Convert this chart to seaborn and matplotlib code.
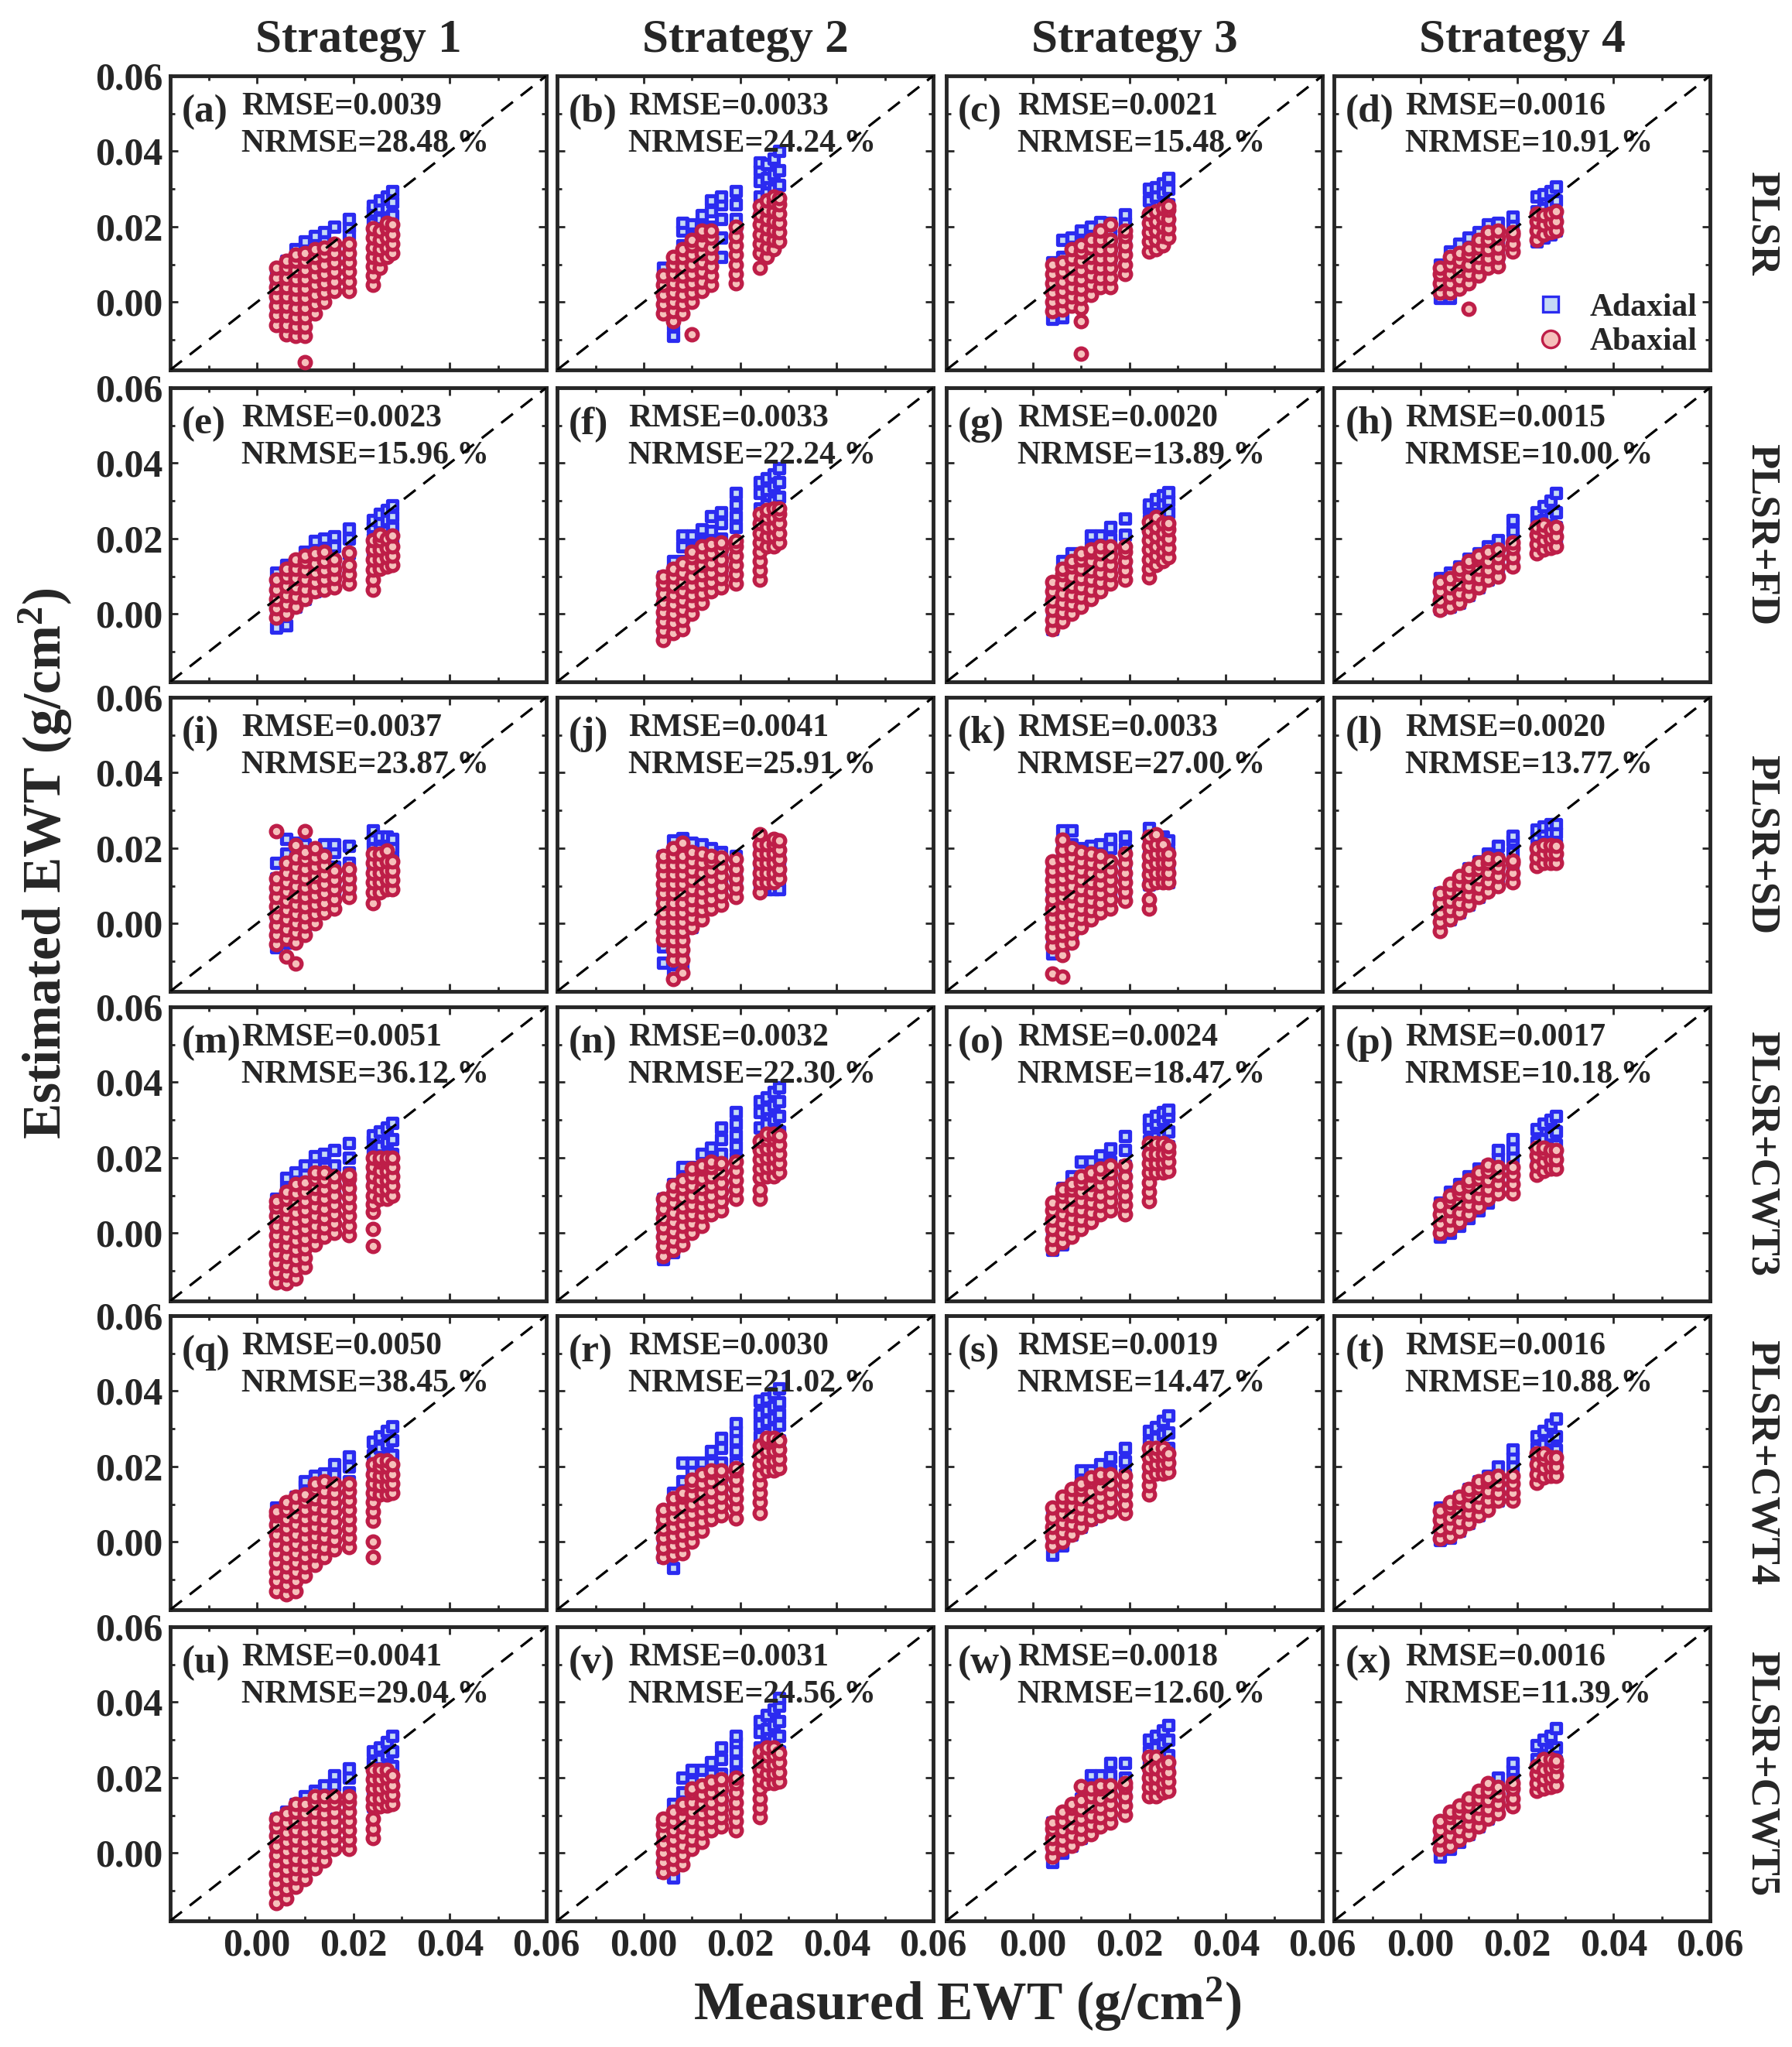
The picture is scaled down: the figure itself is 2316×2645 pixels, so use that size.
import numpy as np
import pandas as pd
import matplotlib
matplotlib.use("Agg")
import matplotlib.pyplot as plt
import seaborn as sns
from matplotlib.lines import Line2D
from matplotlib.ticker import FixedLocator, MultipleLocator, FormatStrFormatter

# ---------------- data (EWT values in 1e-3 g/cm^2) ----------------
# measured-EWT columns shared by all panels
COLS = [4, 6, 8, 10, 12, 14, 16, 19, 24, 25.5, 27, 28]

STRATEGIES = ["Strategy 1", "Strategy 2", "Strategy 3", "Strategy 4"]
METHODS = ["PLSR", "PLSR+FD", "PLSR+SD", "PLSR+CWT3", "PLSR+CWT4", "PLSR+CWT5"]
LETTERS = list("abcdefghijklmnopqrstuvwx")
RMSE = ["0.0039", "0.0033", "0.0021", "0.0016",
        "0.0023", "0.0033", "0.0020", "0.0015",
        "0.0037", "0.0041", "0.0033", "0.0020",
        "0.0051", "0.0032", "0.0024", "0.0017",
        "0.0050", "0.0030", "0.0019", "0.0016",
        "0.0041", "0.0031", "0.0018", "0.0016"]
NRMSE = ["28.48", "24.24", "15.48", "10.91",
         "15.96", "22.24", "13.89", "10.00",
         "23.87", "25.91", "27.00", "13.77",
         "36.12", "22.30", "18.47", "10.18",
         "38.45", "21.02", "14.47", "10.88",
         "29.04", "24.56", "12.60", "11.39"]

# estimated EWT per measured column: ad_* = Adaxial, ab_* = Abaxial
ad_a = [[-3,1,5,8],[-1,3,7,11],[1,5,9,14],[3,7,11,16],[5,9,13,17.5],[8,12,16,18.5],[11,15,20],[12,15,18,20,22],[18,21,24,25.5],[19,22,25,27],[19,22,25,28],[20,23,26.5,29.5]]
ab_a = [[-6,-3.5,-1,1.5,4,6.5,9],[-8.5,-6,-3.5,-1,1.5,4,6.5,9,11],[-9,-6.5,-4,-1.5,1,3.5,6,8.5,11,12.5],[-16,-9,-6.5,-4,-1.5,1,3.5,6,8.5,11,13],[-3,-0.5,2,4.5,7,9.5,12,14],[0,2.5,5,7.5,10,12.5,14.5],[3,5.5,8,10.5,13,15.5],[3,5.5,8,10.5,13,15.5],[4.5,7,9.5,12,14.5,17,19.5],[9,11.5,14,16.5,19],[12,14.5,17,19.5,21],[13,15.5,18,20.5]]
ad_b = [[-2,2,6,9],[-9,-6,-2,3,7,10],[0,5,10,15,19,21],[3,8,13,17,20.5],[6,11,16,20,23],[10,15,20,24,27],[12,17,22,26,28],[18,22,26,29.5],[24,28,32,35,37],[25,29,33,36.5],[26,30,34,38],[27,31,35,40]]
ab_b = [[-3,-0.5,2,4.5,7],[-5,-2.5,0,2.5,5,7.5,10,12],[-3,-0.5,2,4.5,7,9.5,12,14],[-8.5,0,2.5,5,7.5,10,12.5,15,16.5],[3,5.5,8,10.5,13,15.5,18,19],[4.5,7,9.5,12,14.5,17,19],[],[5,7.5,10,12.5,15,17.5,20],[9,13,15.5,18,20.5,23,25.5],[12,14.5,17,19.5,22,24.5,27],[14,16.5,19,21.5,24,26.5,28],[16,18.5,21,23.5,26,27.5]]
ad_c = [[-4.5,-1,3,7,10.5],[-4,0,4,8,12,16.5],[1,5,9,13,17],[4,8,12,16,19],[6,10,14,18,20],[8,12,16,20,21.3],[10,14,18,21],[13,17,21,23.3],[19,23,27,30],[20,24,28,30.5],[21,25,29,31.5],[22,26,30,33]]
ab_c = [[-2.5,0,2.5,5,7.5,10],[-2,0.5,3,5.5,8,10.5],[-1,1.5,4,6.5,9,11.5,14],[-13.6,-5,-1.5,1,3.5,6,8.5,11,13.5,15],[2,4.5,7,9.5,12,14.5,16.5],[4,6.5,9,11.5,14,16.5,19],[4,6.5,9,11.5,14,16.5,20.5],[7.5,10,12.5,15,17.5,19],[13.5,16,18.5,21,23.5],[14,16.5,19,21.5,24],[15,17.5,20,22.5,25],[17,19.5,22,24.5,25.5]]
ad_d = [[1,4,7,10],[1,4,8,12,13.5],[4,8,12,15.5],[6,10,14,17],[8,12,16,18.5],[10,14,18,20.5],[12,16,19,21],[14,18,21,22.7],[16,20,24,28],[17,21,25,28.5],[18,22,26,29.5],[19,23,27,30.7]]
ab_d = [[2.5,5,7.5,9],[2.5,5,7.5,10,12],[3.5,6,8.5,11,13],[-1.7,5,7.5,10,12.5,14.3],[7,9.5,12,14.5,16.5],[9,11.5,14,16.5,18.5],[9.5,12,14.5,17,19],[13.5,15.5,18,18.5],[16.5,19,21.5,23.5],[18,20.5,23],[18.5,21,23.5],[19,21.5,24]]
ad_e = [[-3.6,0,4,8,11],[-3,1,5,9,13],[2,6,10,14],[4,8,12,16.5],[6,10,14,19.4],[8,12,16,20],[10,14,18,20.5],[12,16,20,22.6],[16,20,23,25],[17,21,24,26.5],[18,22,25,27.5],[19,23,26,28.9]]
ab_e = [[-1,1.5,4,6.5,9],[0,2.5,5,7.5,10,12],[2,4.5,7,9.5,12,14.5],[4,6.5,9,11.5,14,15.5],[6,8.5,11,13.5,16],[6.5,9,11.5,14,16.5],[7,9.5,12,14.5],[8,10.5,13,16.3],[6.5,9,11.8,14.5,17,19.5],[12,14.5,17,19.5,21],[12.5,15,17.5,20],[13,15.5,18,20.8]]
ad_f = [[-5,-1,3,7,10],[-4,0,4,8,12,14],[2,6,10,14,18,20.8],[4,8,12,16,20,20.8],[7,11,15,19,22.5],[10,14,18,22,26],[12,16,20,24,27],[23,26,29,32],[24,28,32,35],[25,29,33,36],[26,30,34,37],[27,31,35,38.6]]
ab_f = [[-7,-4.5,-2,0.5,3,5.5,8,10],[-5,-2.5,0,2.5,5,7.5,10,12],[-4,-1.5,1,3.5,6,8.5,11,13.5],[0,2.5,5,7.5,10,12.5,15,16.5],[3,5.5,8,10.5,13,15.5,18],[6,8.5,11,13.5,16,18.5],[7,9.5,12,14.5,17,19],[8,10.5,13,15.5,18,19.4],[9,11.5,14,16.5,19,21.5,24,26.5],[18,20.5,23,25.5,27.5],[18,20.5,23,25.5,28],[19,21.5,24,26.5,28]]
ad_g = [[-4,0,4,8],[-1,3,7,11,14],[2,6,10,14,16],[4,8,12,16],[6,10,14,18,20.8],[9,13,17,20.8],[12,16,20,23],[13,17,21,25.4],[21,25,28,29],[22,26,29,30.5],[22,26,29,31.5],[23,27,30,32.3]]
ab_g = [[-4,-1.5,1,3.5,6,8.5],[-2,0.5,3,5.5,8,10.5,12],[0,2.5,5,7.5,10,12.5,14],[2,4.5,7,9.5,12,14.5,16],[4,6.5,9,11.5,14,16.5,17],[6,8.5,11,13.5,16,18],[8,10.5,13,15.5,18],[9,11.5,14,16.5,18],[9.7,12,14.5,17,19.5,22,24.5],[13,15.5,18,20.5,23,25.7],[14,16.5,19,21.5,24],[15,17.5,20,22.5,24]]
ad_h = [[1.3,4,7,9.5],[2,5,8,11],[3,6,9,12.5],[5,8,11,14.6],[7,10,13,16],[9,12,15,18],[11,14,17,19.5],[13,16,19,22,25],[18,21,24,27],[19,22,25,28.5],[20,23,26,30],[20,23,27,32]]
ab_h = [[1,3.5,6,8.5],[2,4.5,7,9.5],[3,5.5,8,10.5,12],[5,7.5,10,12.5,14],[7,9.5,12,14.5,15.5],[9,11.5,14,16.5],[10,12.5,15,17],[12.5,15,17.5,19],[16,18.5,21,23],[17,19.5,22,23.6],[17.5,20,22.5],[18,20.5,23]]
ad_i = [[-6.3,-3,0.5,4,8,12,16],[-5,-1,3,7,11,15,18.5,22.5],[-3,1,5,9,13,17,21.5],[-1,3,7,11,15,19,21],[2,6,10,14,18,20],[5,9,13,17,21],[7,11,15,19,21],[8,12,16,20.5],[14,17,20,22.5,24.7],[14,17,20,23],[14,17,20,23],[14,17,20,22.5]]
ab_i = [[-5.5,-3,-0.5,2,4.5,7,9.5,12,24.5],[-8.8,-4,-1.5,1,3.5,6,8.5,11,13.5,16],[-10.6,-5,-2.5,0,2.5,5,7.5,10,12.5,15,17.5,20.8],[-3,-0.5,2,4.5,7,9.5,12,14.5,17,19,24.5],[0,2.5,5,7.5,10,12.5,15,17.5,20],[3,5.5,8,10.5,13,15.5,18],[4,6.5,9,11.5,14],[7,9.5,12,14.5],[5.5,8.3,11,13.5,16,18.5],[8.3,11,13.5,16,18.5],[9,11.5,14,16.5,19.4],[9,11.5,14,16.5]]
ad_j = [[-10.5,-6,-2,2,6,10,14,18],[-13.3,-9,-5,-1,3,7,11,15,19,22],[-11,-7,-3,1,5,9,13,17,21,22.6],[-1,3,7,11,15,19,21.5],[2,6,10,14,18,21],[5,9,13,17,20],[8,12,16,19],[10,14,18],[9,12,15,18,20],[9,12,15,18,20],[9,12,15,18],[9,12,15,17]]
ab_j = [[-4.3,-2,0.5,3,5.5,8,10.5,13,15.5,18],[-14.7,-9.5,-7,-4.5,-2,0.5,3,5.5,8,10.5,13,15.5,18,20],[-13,-9.5,-7,-4.5,-2,0.5,3,5.5,8,10.5,13,15.5,18,21.5],[-1,1.5,4,6.5,9,11.5,14,16.5,19],[1,3.5,6,8.5,11,13.5,16,18.5],[4,6.5,9,11.5,14,16.5,18],[5,7.5,10,12.5,15,17.5],[7,9.5,12,14.5,17],[8.3,11,13.5,16,18.5,21,23.6],[11,13.5,16,18.5,21],[11,13.5,16,18.5,21,22.5],[12,14.5,17,19.5,22]]
ad_k = [[-8,-4,0,4,8,12,16],[-6,-2,2,6,10,14,18,22,24.7],[-3,1,5,9,13,17,21,24.7],[0,4,8,12,16,20],[2,6,10,14,18,20.5],[5,9,13,17,21],[8,12,16,20,22.5],[8,12,16,20,23],[10.4,14,18,22,25.4],[11,15,19,23],[11,15,19,23],[11,15,19,22]]
ab_k = [[-13.3,-6,-3.5,-1,1.5,4,6.5,9,11.5,14,16.5],[-14,-8.4,-5.5,-3,-0.5,2,4.5,7,9.5,12,14.5,17,19.5,22.2],[-5,-2.5,0,2.5,5,7.5,10,12.5,15,17.5,20],[-1,1.5,4,6.5,9,11.5,14,16.5,19],[1,3.5,6,8.5,11,13.5,16,18.5],[3,5.5,8,10.5,13,15.5,18],[4,6.5,9,11.5,14,16.5],[6,8.5,11,13.5,16,18.5],[4,6.5,10.4,13,15.5,18,20.5,23],[11,13.5,16,18.5,21,23.6],[11,13.5,16,18.5,21],[11,13.5,16,18.5]]
ad_l = [[-0.8,2,5,8],[1,4,7,10],[3,6,9,12],[5,8,11,14.6],[7,10,13,16.5],[9,12,15,18.5],[11,14,17,20.5],[13,16,19,22,23.3],[17,20,23,25],[18,21,24,25.7],[18,21,24,26.4],[18,21,24,26.4]]
ab_l = [[-2,0.5,3,5.5,8],[1,3.5,6,8.5,10.5],[3,5.5,8,10.5,12.5],[5,7.5,10,12.5,14.5],[7,9.5,12,14.5,16],[8.5,11,13.5,16,17.4],[10,12.5,15,17],[11,13.5,16,16.7],[15.3,17.5,20],[16,18.5,20.8],[16,18.5,20.8],[16,18.5,20.5]]
ad_m = [[-2,2,5.6,9],[0,4,8,12,14.7],[2,6,10,14,16],[4,8,12,16,18],[6,10,14,18,20.3],[8,12,16,20,21],[10,14,18,22],[12,16,20,23.8],[9.5,13,17,21,24.5,26],[11,15,19,23,27],[12,16,20,24,28],[13,17,21,25,29.3]]
ab_m = [[-13,-10.5,-8,-5.5,-3,-0.5,2,4.5,7,8.5],[-13.2,-11,-8.5,-6,-3.5,-1,1.5,4,6.5,9,11],[-12,-9.5,-7,-4.5,-2,0.5,3,5.5,8,10.5,13],[-9,-6.5,-4,-1.5,1,3.5,6,8.5,11,13.5],[-3,-0.5,2,4.5,7,9.5,12,14.5,16],[-1,1.5,4,6.5,9,11.5,14,16],[0,2.5,5,7.5,10,12.5,15],[-0.6,2,4.5,7,9.5,12,14.5,15.4],[-3.4,1.1,5.6,7.7,10,12.5,15,17.5,20],[9,11.5,14,16.5,19,20],[9,11.5,14,16.5,19,20],[10,12.5,15,17.5,20]]
ad_n = [[-7,-3,1,5,9],[-5,-1,3,7,11,13],[-1,3,7,11,15,17.5],[2,6,10,14,17.5],[5,9,13,17,21],[9,13,17,21,22.7],[13,17,21,25,28],[20,23,26,29,32],[24,28,32,35],[25,29,33,36],[26,30,34,37.5],[27,31,35,38.7]]
ab_n = [[-6,-3.5,-1,1.5,4,6.5,9],[-4.5,-2,0.5,3,5.5,8,10.5,12.5],[-3,-0.5,2,4.5,7,9.5,12,14],[0,2.5,5,7.5,10,12.5,15,17],[2,4.5,7,9.5,12,14.5,17,18],[5,7.5,10,12.5,15,17.5,19],[6,8.5,11,13.5,16,18.5],[9,11.5,14,16.5,18.9],[9,11.5,14.7,17,19.5,22,24.5],[15,17.5,20,22.5,25,26.4],[15,17.5,20,22.5,25,26.4],[16,18.5,21,23.5,26]]
ad_o = [[-4.5,-1,3,7],[-3,1,5,9,12],[0,4,8,12,15],[3,7,11,15,18.9],[6,10,14,18,19],[9,13,17,20.5],[11,15,19,22.5],[14,18,22,25.8],[21,24.5,28,30],[22,25.5,29,31],[22,26,30,32],[23,27,31,32.8]]
ab_o = [[-4,-1.5,1,3.5,6,8],[-2.5,0,2.5,5,7.5,10,11.5],[-1,1.5,4,6.5,9,11.5,13],[1,3.5,6,8.5,11,13.5,15],[3,5.5,8,10.5,13,15.5,16],[5,7.5,10,12.5,15,17],[6,8.5,11,13.5,16,18],[5,7.5,10,12.5,15,18],[8.4,11,13.5,16,18.5,21,23.8],[16,18.5,21,23.8],[16,18.5,21,23.8],[16.5,19,21.5,23]]
ad_p = [[-1,2,5,8],[0,3,6,9,11],[2,5,8,11,13],[4,7,10,13,15],[6,9,12,15,17],[8,11,14,17,18],[11,14,17,20,22],[14,17,20,22.5,24.8],[18,21,24,27.5],[19,22,25,29],[20,23,26,30],[20,23.5,27,31]]
ab_p = [[0,2.5,5,7.5],[1,3.5,6,8.5,10],[3,5.5,8,10.5,12],[5,7.5,10,12.5,14],[7,9.5,12,14.5,16],[9,11.5,14,16.5,18.2],[10.5,13,15.5,17.5],[10.5,13,15.5,17.5],[15.4,18,20.5,22.7],[16.5,19,21.5,22.7],[17,19.5,22],[17,19.5,22]]
ad_q = [[-3,1,5,9],[-1,3,7,10],[1,5,9,12],[3,7,11,15,16],[6,10,14,17.5],[8,12,16,18.2],[10,14,18,20.5],[12,16,20,22.7],[11.6,15,19,23,26.5],[13,17,21,25,28],[14,18,22,26,29.5],[15,19,23,27,30.7]]
ab_q = [[-13,-10.5,-8,-5.5,-3,-0.5,2,4.5,7,8],[-13.9,-11.5,-9,-6.5,-4,-1.5,1,3.5,6,8.5,10.5],[-13,-10.5,-8,-5.5,-3,-0.5,2,4.5,7,9.5,12],[-9,-6.5,-4,-1.5,1,3.5,6,8.5,11,12.6],[-6,-3.5,-1,1.5,4,6.5,9,11.5,14,15.5],[-4,-1.5,1,3.5,6,8.5,11,13.5,16],[-2,0.5,3,5.5,8,10.5,13,15.4],[-1.3,1,3.5,6,8.5,11,13.5,15.4],[-4.1,0,5.6,8,10.5,13,15.5,18,20.5],[12.6,15,17.5,20,21.7],[12.6,15,17.5,20,21.7],[13,15.5,18,20.5]]
ad_r = [[-4,0,4,8],[-6.9,-2,2,6,10,13],[0,4,8,12,16,21],[3,7,11,15,19,21],[6,10,14,18,21],[9,13,17,21,24],[13,17,21,25,27.5],[21,24,27,29.5,31.4],[24,28,31,34,37.5],[25,29,32,35,38],[26,30,33,36,39.5],[27,31,34,37,40.8]]
ab_r = [[-4,-1.5,1,3.5,6,8.5],[-3.5,-1,1.5,4,6.5,9,11.5],[-3,-0.5,2,4.5,7,9.5,12,13],[0,2.5,5,7.5,10,12.5,15,16.5],[3,5.5,8,10.5,13,15.5,18],[6,8.5,11,13.5,16,18.5,19],[7,9.5,12,14.5,17,19],[6.3,9,11.5,14,16.5,19,19.6],[7.7,10.5,13,15.5,18,20.5,23,25.5],[18.9,21.5,24,26.5,27.5],[18.9,21.5,24,26.5,27.5],[19.5,22,24.5,27]]
ad_s = [[-3.4,0,3.5,7],[-1,3,7,10],[2,6,10,13],[4,8,12,16,18.9],[6,10,14,18,18.9],[9,13,17,20.5],[11,15,19,22.5],[14,18,21.5,24.8],[19,23,26.5,29.5],[20,24,27.5,30.5],[21,25,28.5,32],[21,25,29,33.5]]
ab_s = [[-1,1.5,4,6.5,9],[0,2.5,5,7.5,10,12],[2,4.5,7,9.5,12,14],[4,6.5,9,11.5,14,15.5],[6,8.5,11,13.5,16,17],[7,9.5,12,14.5,17,18],[8,10.5,13,15.5,18],[7.7,10,12.5,15,17.5],[12.6,15,17.5,20,22.5,24.8],[18.2,20.5,23,24.8],[18.2,20.5,23,24.8],[18.5,21,23.5]]
ad_t = [[0.4,3,6,9],[1,4,7,10],[3,6,9,12],[5,8,11,14],[7,10,13,16],[9,12,15,17.5],[11,14,17,20],[14,17,20,22.5,24.5],[19,22,25,28],[20,23,26,29.5],[21,24,27,31],[21,24.5,28,32.8]]
ab_t = [[0.8,3.3,5.8,8.3],[1.5,4,6.5,9,10.5],[3,5.5,8,10.5,12],[5,7.5,10,12.5,14],[7,9.5,12,14.5,16],[8.5,11,13.5,16,16.8],[10.9,13,15.5,17.5],[10.9,13,15.5,17.5],[15.7,18,20.5,23.4],[17,19.5,22,23.4],[17.5,20,22.5],[17.5,20,22.5]]
ad_u = [[-2,2,6,9],[0,4,8,11],[2,6,10,13],[4,8,12,15],[6,10,14,16.4],[8,12,16,18],[10,14,18,20.5],[12,16,20,22.4],[12.3,16,20,24,27],[13,17,21,25,28],[14,18,22,26,29.5],[15,19,23,27,31.1]]
ab_u = [[-13.2,-10.5,-8,-5.5,-3,-0.5,2,4.5,7,9],[-12,-9.5,-7,-4.5,-2,0.5,3,5.5,8,10.5],[-9,-6.5,-4,-1.5,1,3.5,6,8.5,11,13],[-7,-4.5,-2,0.5,3,5.5,8,10.5,13],[-4,-1.5,1,3.5,6,8.5,11,13.5,15],[-2,0.5,3,5.5,8,10.5,13,15],[1,3.5,6,8.5,11,13.5,15],[1.1,3.5,6,8.5,11,13.5,15],[3.9,6.5,9,12.3,14.5,17,19.5,22],[12.3,14.5,17,19.5,22],[12.5,15,17.5,20,22],[13,15.5,18,20.5]]
ad_v = [[-5,-1,3,7],[-6.6,-2,2,6,10,13],[0,4,8,12,16,20],[3,7,11,15,19,22],[6,10,14,18,22],[9,13,17,21,24],[13,17,21,25,28],[21,24,27,29.5,31],[24,28,32,35],[25,29,33,36.5],[26,30,34,38],[27,31,35,39,41.2]]
ab_v = [[-5,-2.5,0,2.5,5,7.5,9],[-4,-1.5,1,3.5,6,8.5,11],[-3,-0.5,2,4.5,7,9.5,12,13],[1,3.5,6,8.5,11,13.5,16,17],[3,5.5,8,10.5,13,15.5,18],[6,8.5,11,13.5,16,18.5,19],[7,9.5,12,14.5,17,19.5],[6,8.5,11,13.5,16,18.5,20],[9.5,12,14.5,17,19.5,22,24.5,27],[18.5,21,23.5,26,28],[18.5,21,23.5,26,28],[19,21.5,24,26.5]]
ad_w = [[-2.4,1,4.5,8],[0,3.5,7,10.5],[2,5.5,9,12.5],[4,7.5,11,14.5],[6,9.5,13,16.5,20.6],[8,11.5,15,18.5,20.6],[10,13.5,17,20.5,23.8],[13,16.5,20,23.8],[20,23.5,27,30],[21,24.5,28,31],[22,25.5,29,32.5],[22,26,30,34]]
ab_w = [[-1,1.5,4,6.5,8],[1,3.5,6,8.5,11],[2,4.5,7,9.5,12,13],[4,6.5,9,11.5,14,17.8],[5,7.5,10,12.5,15,17],[7,9.5,12,14.5,17,18],[8,10.5,13,15.5,18],[10.2,12.5,15,17.5,18.5],[15,17.5,20,22.5,25.5],[15,17.5,20,22.5,25.5],[16,18.5,21,23.5],[16.5,19,21.5,24]]
ad_x = [[-1,2,5,8],[1,4,7,10],[3,6,9,12],[5,8,11,14],[7,10,13,16],[9,12,15,17.8],[11,14,17,20],[14,17,20,22,23.8],[19,22,25,28.5],[20,23,26,30],[21,24,27,31],[21,24.5,28,33.2]]
ab_x = [[1.1,3.5,6,8.5],[2,4.5,7,9.5,11],[3.5,6,8.5,11,12.5],[5,7.5,10,12.5,14.5],[7,9.5,12,14.5,16.5],[9,11.5,14,16.5,18.5],[10.5,13,15.5,17.5],[12.3,14.5,17,18.5],[16.4,18.5,21,23],[17,19.5,22,24.8],[17.5,20,22.5,24.8],[18,20.5,23,24.5]]

PANEL_SERIES = {
    "a": (ad_a, ab_a), "b": (ad_b, ab_b), "c": (ad_c, ab_c), "d": (ad_d, ab_d),
    "e": (ad_e, ab_e), "f": (ad_f, ab_f), "g": (ad_g, ab_g), "h": (ad_h, ab_h),
    "i": (ad_i, ab_i), "j": (ad_j, ab_j), "k": (ad_k, ab_k), "l": (ad_l, ab_l),
    "m": (ad_m, ab_m), "n": (ad_n, ab_n), "o": (ad_o, ab_o), "p": (ad_p, ab_p),
    "q": (ad_q, ab_q), "r": (ad_r, ab_r), "s": (ad_s, ab_s), "t": (ad_t, ab_t),
    "u": (ad_u, ab_u), "v": (ad_v, ab_v), "w": (ad_w, ab_w), "x": (ad_x, ab_x),
}

rows = []
for letter, (ad, ab) in PANEL_SERIES.items():
    for side, series in (("Adaxial", ad), ("Abaxial", ab)):
        for xc, ylist in zip(COLS, series):
            for yv in ylist:
                rows.append((letter, side, xc / 1000.0, yv / 1000.0))
df = pd.DataFrame(rows, columns=["panel", "side", "measured", "estimated"])

# ---------------- styling ----------------
sns.set_style("ticks")
plt.rcParams["font.family"] = ["Liberation Serif", "DejaVu Serif"]
plt.rcParams["font.weight"] = "bold"
plt.rcParams["mathtext.fontset"] = "custom"
plt.rcParams["mathtext.rm"] = "Liberation Serif:bold"
plt.rcParams["mathtext.it"] = "Liberation Serif:italic:bold"
plt.rcParams["mathtext.bf"] = "Liberation Serif:bold"

AD_FACE, AD_EDGE = "#C5DAF5", "#2B2BF0"
AB_FACE, AB_EDGE = "#F6C0BB", "#BE1E48"

W, H = 2316, 2645
fig = plt.figure(figsize=(W / 100, H / 100), dpi=100)

col_left = [220, 720, 1223, 1724]
row_top = [98, 501, 901, 1301, 1700, 2102]
pw, ph = 486, 380
LIM = (-0.018, 0.06)

for r in range(6):
    for c in range(4):
        idx = r * 4 + c
        letter = LETTERS[idx]
        ax = fig.add_axes([col_left[c] / W, 1 - (row_top[r] + ph) / H, pw / W, ph / H])
        sub = df[df.panel == letter]
        sns.scatterplot(data=sub[sub.side == "Adaxial"], x="measured", y="estimated",
                        marker="s", s=72, color=AD_FACE, edgecolor=AD_EDGE,
                        linewidth=3.8, ax=ax, legend=False, zorder=2)
        sns.scatterplot(data=sub[sub.side == "Abaxial"], x="measured", y="estimated",
                        marker="o", s=112, color=AB_FACE, edgecolor=AB_EDGE,
                        linewidth=3.8, ax=ax, legend=False, zorder=3)
        ax.axline((0, 0), slope=1, color="black", lw=2.3, ls=(0, (6, 4)), zorder=5)
        ax.set_xlim(*LIM)
        ax.set_ylim(*LIM)
        ax.xaxis.set_major_locator(FixedLocator([0, 0.02, 0.04, 0.06]))
        ax.yaxis.set_major_locator(FixedLocator([0, 0.02, 0.04, 0.06]))
        ax.xaxis.set_minor_locator(MultipleLocator(0.01))
        ax.yaxis.set_minor_locator(MultipleLocator(0.01))
        ax.xaxis.set_major_formatter(FormatStrFormatter("%.2f"))
        ax.yaxis.set_major_formatter(FormatStrFormatter("%.2f"))
        ax.tick_params(which="both", direction="in", top=True, right=True,
                       width=2, labelsize=36, pad=7)
        ax.tick_params(which="major", length=7)
        ax.tick_params(which="minor", length=4)
        ax.set_xlabel("")
        ax.set_ylabel("")
        if c != 0:
            ax.tick_params(labelleft=False)
        if r != 5:
            ax.tick_params(labelbottom=False)
        for sp in ax.spines.values():
            sp.set_linewidth(3.5)
            sp.set_visible(True)
        ax.text(0.03, 0.875, f"({letter})", transform=ax.transAxes, fontsize=37,
                fontweight="bold", ha="left", va="center")
        ax.text(0.19, 0.868, f"RMSE={RMSE[idx]}", transform=ax.transAxes, fontsize=30,
                fontweight="bold", ha="left", va="baseline")
        ax.text(0.19, 0.742, f"NRMSE={NRMSE[idx]} %", transform=ax.transAxes, fontsize=30,
                fontweight="bold", ha="left", va="baseline")
        if idx == 3:
            handles = [
                Line2D([], [], ls="none", marker="s", markersize=15, mfc=AD_FACE,
                       mec=AD_EDGE, mew=2.4),
                Line2D([], [], ls="none", marker="o", markersize=16, mfc=AB_FACE,
                       mec=AB_EDGE, mew=2.4),
            ]
            ax.legend(handles, ["Adaxial", "Abaxial"], loc="lower right", frameon=False,
                      prop={"size": 30, "weight": "bold"}, handlelength=1.0,
                      handletextpad=0.7, labelspacing=0.15, borderaxespad=0.3,
                      borderpad=0.1)

for c, name in enumerate(STRATEGIES):
    fig.text((col_left[c] + pw / 2) / W, 1 - 67 / H, name, ha="center", va="baseline",
             fontsize=44, fontweight="bold")
for r, name in enumerate(METHODS):
    fig.text(2277 / W, 1 - (row_top[r] + ph / 2) / H, name, rotation=270,
             ha="center", va="center", fontsize=38, fontweight="bold")

fig.text(59 / W, 1 - 1116 / H, r"Estimated EWT (g/cm$^{2}$)", rotation=90,
         ha="center", va="center", fontsize=50, fontweight="bold")
fig.text(1250 / W, 1 - 2590 / H, r"Measured EWT (g/cm$^{2}$)",
         ha="center", va="center", fontsize=50, fontweight="bold")

fig.savefig("out.png", dpi=100)
